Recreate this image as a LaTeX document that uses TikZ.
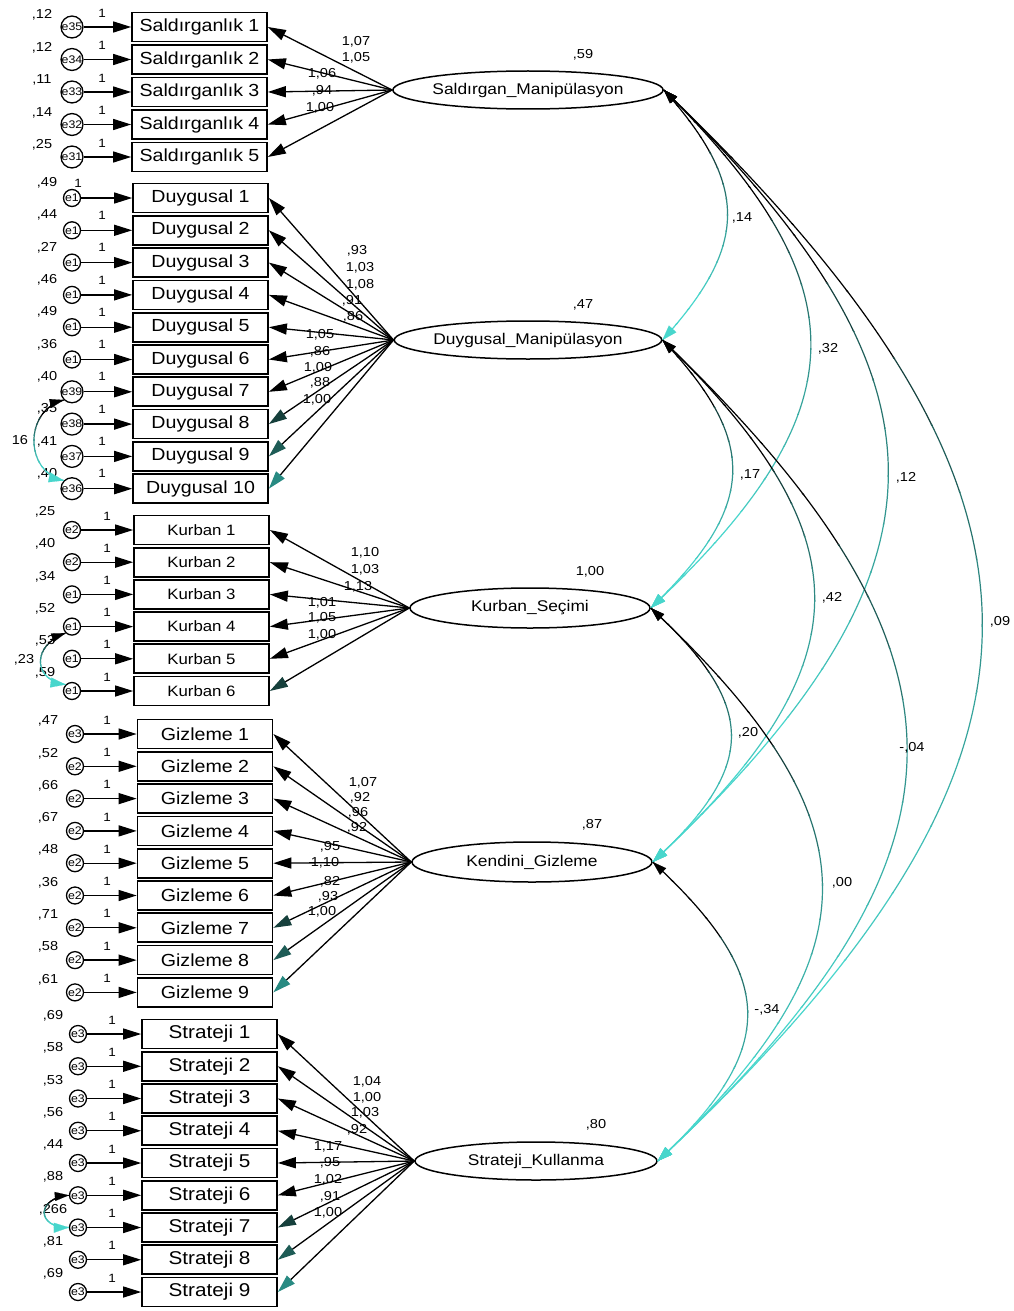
\documentclass[tikz,border=0pt]{standalone}
\usepackage{fontspec}
\setmainfont{Liberation Sans}[FakeStretch=1.12]
\usetikzlibrary{arrows.meta,shapes.geometric,calc}
\definecolor{covc}{RGB}{72,214,204}
\definecolor{tealA}{RGB}{22,64,60}
\definecolor{tealB}{RGB}{30,92,86}
\definecolor{tealC}{RGB}{40,138,130}
% gradient covariance: #1 from, #2 c1, #3 c2, #4 to, #5 ytop, #6 ybot
\newcommand\gradcov[6]{%
  \foreach \gi in {0,...,15}{%
    \pgfmathsetmacro\gya{#5+(#6-#5)/16*\gi-0.6}%
    \pgfmathsetmacro\gyb{#5+(#6-#5)/16*(\gi+1)+0.6}%
    \pgfmathtruncatemacro\gpc{100*sqrt(max(0,min(1,(\gi-3)/10)))}%
    \begin{scope}
      \clip (0,\gya) rectangle (1014,\gyb);
      \draw[cov,draw=covc!\gpc!black] #1 .. controls #2 and #3 .. #4;
    \end{scope}
  }%
  \draw[line width=0.1pt,-{Triangle[length=14pt,width=9pt,color=black]}] ($#1!14pt!#2$) -- #1;
  \draw[line width=0.1pt,-{Triangle[length=15pt,width=10pt,color=covc]}] ($#4!15pt!#3$) -- #4;
}
\begin{document}
\begin{tikzpicture}[x=1pt,y=-1pt,
  box/.style={draw,line width=1.7pt,minimum width=135pt,minimum height=29pt,inner sep=0pt,font=\fontsize{17.5}{19}\selectfont},
  kbox/.style={box,font=\fontsize{15}{17}\selectfont},
  tbox/.style={box,font=\fontsize{18.5}{20}\selectfont},
  err/.style={circle,draw,line width=1.3pt,minimum size=17pt,inner sep=0pt,font=\fontsize{11}{11}\selectfont},
  lat/.style={ellipse,draw,line width=1.5pt,inner sep=0pt,font=\fontsize{15.5}{17}\selectfont},
  num/.style={inner sep=0pt,font=\fontsize{13}{14}\selectfont},
  one/.style={inner sep=0pt,font=\fontsize{12}{13}\selectfont},
  earr/.style={line width=1.3pt,-{Triangle[length=18pt,width=11pt]}},
  cov/.style={line width=1.2pt}]

\fill[white] (0,0) rectangle (1014,1311);
\useasboundingbox (0,0) rectangle (1014,1311);

% latent variables
\node[lat,minimum width=247pt,minimum height=38pt] (SM) at (528,90) {Saldırgan\_Manipülasyon};
\node[lat,minimum width=247pt,minimum height=38pt] (DM) at (528,340) {Duygusal\_Manipülasyon};
\node[lat,minimum width=240pt,minimum height=40pt] (KS) at (530,608) {Kurban\_Seçimi};
\node[lat,minimum width=240pt,minimum height=40pt] (KG) at (532,862) {Kendini\_Gizleme};
\node[lat,minimum width=242pt,minimum height=38pt] (SK) at (536,1161) {Strateji\_Kullanma};

\node[num] at (583,55) {,59};
\node[num] at (583,305) {,47};
\node[num] at (590,572) {1,00};
\node[num] at (592,825) {,87};
\node[num] at (596,1125) {,80};

% Saldirganlik
\foreach \i/\y/\e/\v/\c in {1/27/e35/12/black,2/59.5/e34/12/black,3/92/e33/11/black,4/124.5/e32/14/black,5/157/e31/25/black}{
  \node[box] (s\i) at (199.5,\y) {Saldırganlık \i};
  \node[err] (se\i) at (72,\y) {\e};
  \node[num] at (42,\y-12) {,\v};
  \node[one] at (102,\y-14) {1};
  \draw[earr] (se\i) -- (s\i);
  \draw[line width=1.3pt,-{Triangle[length=18pt,width=11pt,color=\c]}] (SM.west) -- (s\i.east);
}
% Duygusal
\foreach \i/\e/\v/\c/\ox in {1/e1/49/black/78,2/e1/44/black/102,3/e1/27/black/102,4/e1/46/black/102,5/e1/49/black/102,6/e1/36/black/102,7/e39/40/black/102,8/e38/35/tealA/102,9/e37/41/tealB/102,10/e36/40/tealC/102}{
  \pgfmathsetmacro\y{198+32.3*(\i-1)}
  \node[box] (d\i) at (200.5,\y) {Duygusal \i};
  \node[err] (de\i) at (72,\y) {\e};
  \node[num] at (47,\y-15) {,\v};
  \node[one] at (\ox,\y-15) {1};
  \draw[earr] (de\i) -- (d\i);
  \draw[line width=1.3pt,-{Triangle[length=18pt,width=11pt,color=\c]}] (DM.west) -- (d\i.east);
}
% Kurban
\foreach \i/\e/\v/\c in {1/e2/25/black,2/e2/40/black,3/e1/34/black,4/e1/52/black,5/e1/53/black,6/e1/59/tealA}{
  \pgfmathsetmacro\y{530+32.2*(\i-1)}
  \node[kbox] (k\i) at (201.5,\y) {Kurban \i};
  \node[err] (ke\i) at (72,\y) {\e};
  \node[num] at (45,\y-18) {,\v};
  \node[one] at (107,\y-14) {1};
  \draw[earr] (ke\i) -- (k\i);
  \draw[line width=1.3pt,-{Triangle[length=18pt,width=11pt,color=\c]}] (KS.west) -- (k\i.east);
}
% Gizleme
\foreach \i/\e/\v/\c in {1/e3/47/black,2/e2/52/black,3/e2/66/black,4/e2/67/black,5/e2/48/black,6/e2/36/black,7/e2/71/tealA,8/e2/58/tealB,9/e2/61/tealC}{
  \pgfmathsetmacro\y{734+32.3*(\i-1)}
  \node[box] (g\i) at (205,\y) {Gizleme \i};
  \node[err] (ge\i) at (75,\y) {\e};
  \node[num] at (48,\y-13) {,\v};
  \node[one] at (107,\y-14) {1};
  \draw[earr] (ge\i) -- (g\i);
  \draw[line width=1.3pt,-{Triangle[length=18pt,width=11pt,color=\c]}] (KG.west) -- (g\i.east);
}
% Strateji
\foreach \i/\e/\v/\c in {1/e3/69/black,2/e3/58/black,3/e3/53/black,4/e3/56/black,5/e3/44/black,6/e3/88/black,7/e3/266/tealA,8/e3/81/tealB,9/e3/69/tealC}{
  \pgfmathsetmacro\y{1034+32.25*(\i-1)}
  \node[tbox] (t\i) at (209.5,\y) {Strateji \i};
  \node[err] (te\i) at (78,\y) {\e};
  \node[num] at (53,\y-18) {,\v};
  \node[one] at (112,\y-14) {1};
  \draw[earr] (te\i) -- (t\i);
  \draw[line width=1.3pt,-{Triangle[length=18pt,width=11pt,color=\c]}] (SK.west) -- (t\i.east);
}

% loading labels
\node[num] at (356,42) {1,07};
\node[num] at (356,58) {1,05};
\node[num] at (322,74) {1,06};
\node[num] at (322,91) {,94};
\node[num] at (320,108) {1,00};

\node[num] at (357,251) {,93};
\node[num] at (360,268) {1,03};
\node[num] at (360,285) {1,08};
\node[num] at (352,301) {,91};
\node[num] at (353,317) {,86};
\node[num] at (320,335) {1,05};
\node[num] at (320,352) {,86};
\node[num] at (318,368) {1,09};
\node[num] at (320,383) {,88};
\node[num] at (317,400) {1,00};

\node[num] at (365,553) {1,10};
\node[num] at (365,570) {1,03};
\node[num] at (358,587) {1,13};
\node[num] at (322,603) {1,01};
\node[num] at (322,618) {1,05};
\node[num] at (322,635) {1,00};

\node[num] at (363,783) {1,07};
\node[num] at (360,798) {,92};
\node[num] at (358,813) {,96};
\node[num] at (357,828) {,92};
\node[num] at (330,847) {,95};
\node[num] at (325,863) {1,10};
\node[num] at (330,882) {,82};
\node[num] at (328,897) {,93};
\node[num] at (322,912) {1,00};

\node[num] at (367,1082) {1,04};
\node[num] at (367,1098) {1,00};
\node[num] at (365,1113) {1,03};
\node[num] at (357,1130) {,92};
\node[num] at (328,1147) {1,17};
\node[num] at (330,1163) {,95};
\node[num] at (328,1180) {1,02};
\node[num] at (330,1197) {,91};
\node[num] at (328,1213) {1,00};

% covariances between latents
\gradcov{(SM.east)}{(749,185)}{(749,245)}{(DM.east)}{90}{340}
\gradcov{(SM.east)}{(863,287)}{(861,411)}{(KS.east)}{90}{608}
\gradcov{(SM.east)}{(965,383)}{(965,569)}{(KG.east)}{90}{862}
\gradcov{(SM.east)}{(1087,497)}{(1092,754)}{(SK.east)}{90}{1161}
\gradcov{(DM.east)}{(759,442)}{(757,506)}{(KS.east)}{340}{608}
\gradcov{(DM.east)}{(867,538)}{(867,664)}{(KG.east)}{340}{862}
\gradcov{(DM.east)}{(987,652)}{(992,849)}{(SK.east)}{340}{1161}
\gradcov{(KS.east)}{(757,705)}{(759,765)}{(KG.east)}{608}{862}
\gradcov{(KS.east)}{(875,818)}{(882,951)}{(SK.east)}{608}{1161}
\gradcov{(KG.east)}{(776,976)}{(781,1047)}{(SK.east)}{862}{1161}

\node[num] at (742,218) {,14};
\node[num] at (828,349) {,32};
\node[num] at (906,478) {,12};
\node[num] at (1000,622) {,09};
\node[num] at (750,475) {,17};
\node[num] at (832,598) {,42};
\node[num] at (912,748) {-,04};
\node[num] at (748,733) {,20};
\node[num] at (842,883) {,00};
\node[num] at (767,1010) {-,34};

% correlated errors
\gradcov{(de7.south west)}{(24,410)}{(24,472)}{(de10.north west)}{397}{483}
\gradcov{(ke4.south west)}{(32,645)}{(32,680)}{(ke6.north west)}{632}{685}
\gradcov{(te6.west)}{(36,1198)}{(36,1228)}{(te7.west)}{1196}{1229}
\node[num] at (20,440) {16};
\node[num] at (24,660) {,23};
\end{tikzpicture}
\end{document}
